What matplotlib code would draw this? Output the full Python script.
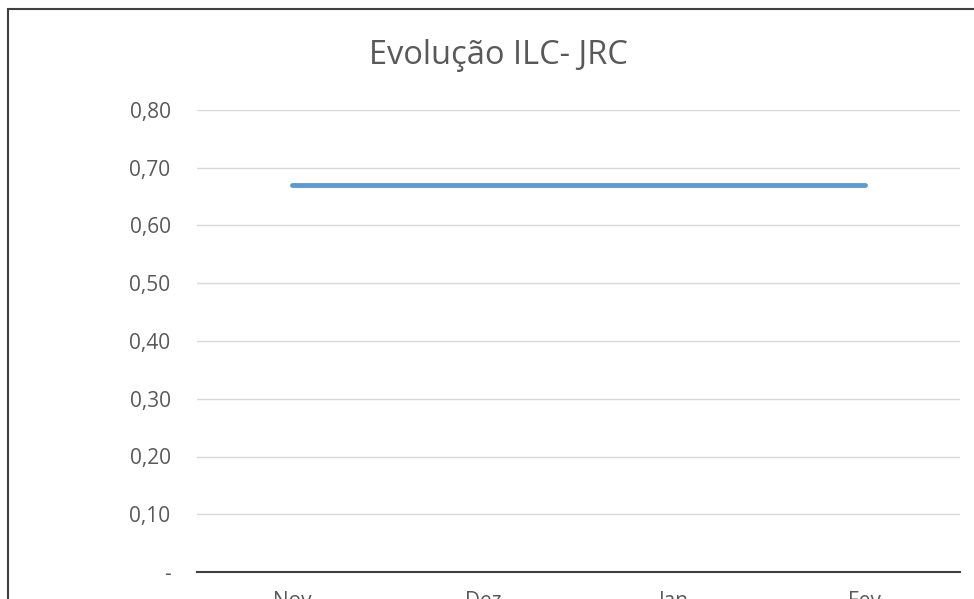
#!/usr/bin/env python3
"""Evolução ILC- JRC line chart."""

import matplotlib
matplotlib.use("Agg")
import matplotlib.pyplot as plt
from matplotlib.patches import Rectangle
from matplotlib.ticker import FixedLocator, FuncFormatter

# Data
months = ["Nov", "Dez", "Jan", "Fev"]
ilc_values = [0.67, 0.67, 0.67, 0.67]
y_ticks = [0.0, 0.1, 0.2, 0.3, 0.4, 0.5, 0.6, 0.7, 0.8]

LINE_COLOR = '#5B9BD5'
TEXT_COLOR = '#595959'
GRID_COLOR = '#D9D9D9'

plt.rcParams['font.family'] = ['Open Sans', 'DejaVu Sans']

fig = plt.figure(figsize=(9.74, 5.99), dpi=100)

# chart frame (cropped at right and bottom)
frame = Rectangle((8 / 974, -0.2), 1.2, 1.2 - 9 / 599, transform=fig.transFigure,
                  fill=False, edgecolor='#404040', linewidth=1.5, clip_on=False)
fig.patches.append(frame)

ax = fig.add_axes([197 / 974, 1 - 572 / 599, (960 - 197) / 974, (572 - 110) / 599])

x = list(range(len(months)))
ax.plot(x, ilc_values, color=LINE_COLOR, linewidth=3.5, solid_capstyle='round')

ax.set_xlim(-0.5, len(months) - 0.5)
ax.set_ylim(0, 0.8)
ax.yaxis.set_major_locator(FixedLocator(y_ticks))
ax.yaxis.set_major_formatter(FuncFormatter(
    lambda v, p: '-' if abs(v) < 1e-9 else f'{v:.2f}'.replace('.', ',')))
ax.set_xticks(x)
ax.set_xticklabels(months)

ax.grid(axis='y', color=GRID_COLOR, linewidth=1)
ax.set_axisbelow(True)
for s in ['top', 'right', 'left']:
    ax.spines[s].set_visible(False)
ax.spines['bottom'].set_color('#404040')
ax.spines['bottom'].set_linewidth(1.5)
ax.tick_params(axis='both', length=0, colors=TEXT_COLOR, labelsize=15)
ax.tick_params(axis='y', pad=19)
ax.tick_params(axis='x', pad=14)

fig.text(498 / 974, 1 - 56 / 599, 'Evolução ILC- JRC', ha='center', va='center',
         fontsize=23.5, color=TEXT_COLOR)

fig.savefig('out.png', dpi=100)
